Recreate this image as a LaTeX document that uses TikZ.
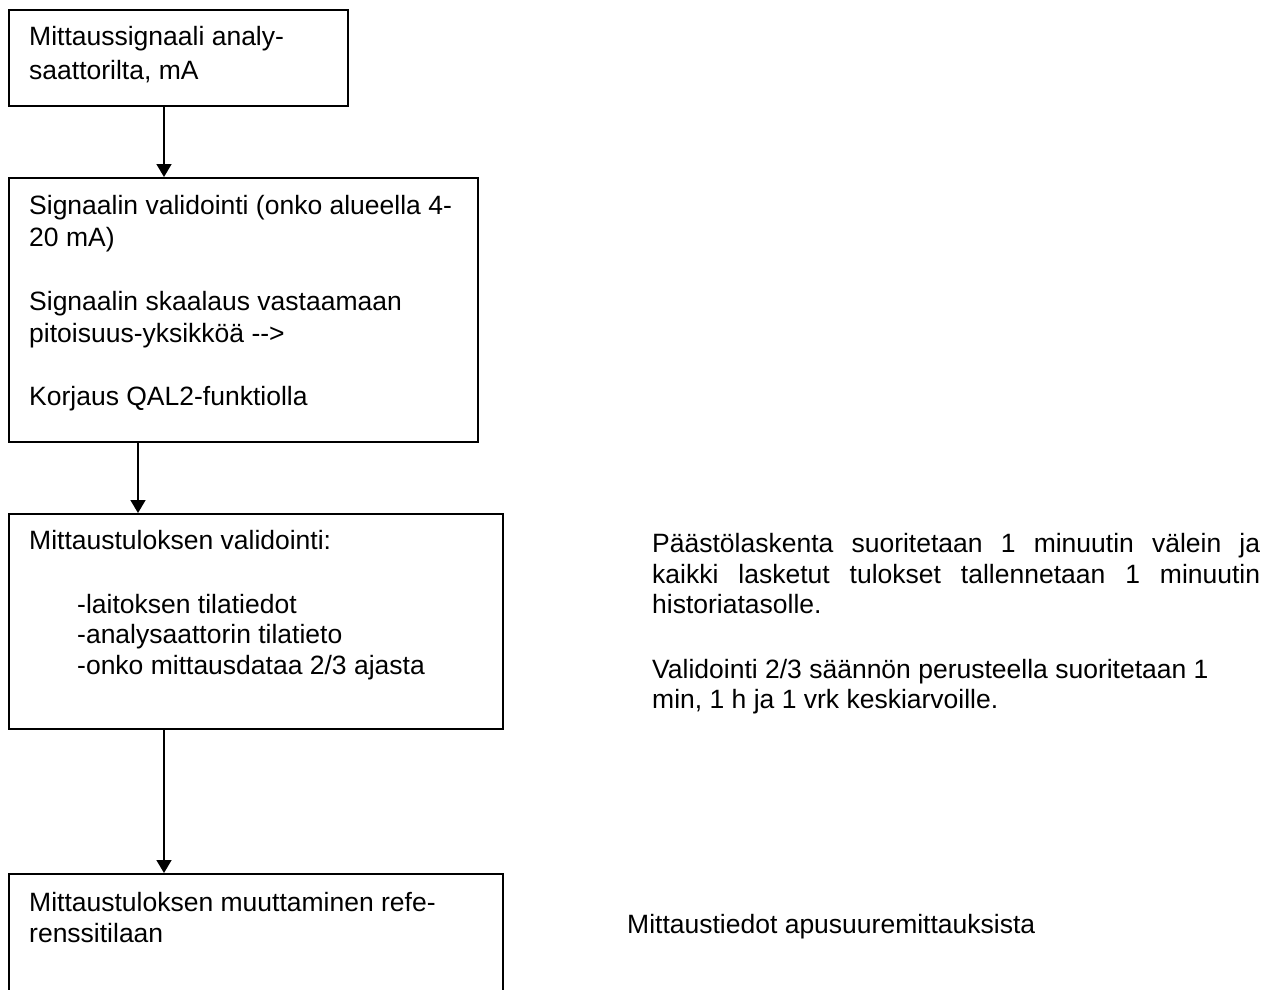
\documentclass[tikz,border=0pt]{standalone}
\usepackage{fontspec}
\setmainfont{Liberation Sans}
\usetikzlibrary{arrows.meta}
\begin{document}
\begin{tikzpicture}[x=1pt,y=-1pt,
  box/.style={draw, line width=1.6pt, anchor=north west, inner sep=0pt},
  txt/.style={inner sep=0pt, anchor=base west, font=\fontsize{26.5}{32}\selectfont},
  arr/.style={line width=1.6pt, -{Triangle[width=15pt,length=13pt]}}]
\useasboundingbox (0,0) rectangle (1272,989);
\clip (0,0) rectangle (1272,989);
% boxes
\node[box, minimum width=339pt, minimum height=96pt] (b1) at (8,9) {};
\node[box, minimum width=469pt, minimum height=264pt] (b2) at (8,177) {};
\node[box, minimum width=494pt, minimum height=215pt] (b3) at (8,513) {};
\node[box, minimum width=494pt, minimum height=140pt] (b4) at (8,873) {};
% box texts
\node[txt] (t11) at (29,45) {Mittaussignaali analy-};
\node[txt] (t12) at (29,79) {saattorilta, mA};
\node[txt] (t21) at (29,214) {Signaalin validointi (onko alueella 4-};
\node[txt] (t22) at (29,246) {20 mA)};
\node[txt] (t23) at (29,310) {Signaalin skaalaus vastaamaan};
\node[txt] (t24) at (29,342) {pitoisuus-yksikköä -\kern0pt-\kern0pt>};
\node[txt] (t25) at (29,405) {Korjaus QAL2-funktiolla};
\node[txt] (t31) at (29,549) {Mittaustuloksen validointi:};
\node[txt] (t32) at (77,613) {-laitoksen tilatiedot};
\node[txt] (t33) at (77,643) {-analysaattorin tilatieto};
\node[txt] (t34) at (77,674) {-onko mittausdataa 2/3 ajasta};
\node[txt] (t41) at (29,911) {Mittaustuloksen muuttaminen refe-};
\node[txt] (t42) at (29,942) {renssitilaan};
% right texts
\node[txt] (r1) at (652,552) {\makebox[608pt][s]{Päästölaskenta suoritetaan 1 minuutin välein ja}};
\node[txt] (r2) at (652,583) {\makebox[608pt][s]{kaikki lasketut tulokset tallennetaan 1 minuutin}};
\node[txt] (r3) at (652,613) {historiatasolle.};
\node[txt] (r4) at (652,678) {Validointi 2/3 säännön perusteella suoritetaan 1};
\node[txt] (r5) at (652,708) {min, 1 h ja 1 vrk keskiarvoille.};
\node[txt] (r6) at (627,933) {Mittaustiedot apusuuremittauksista};
% connectors
\coordinate (x1) at (164,0);
\coordinate (x2) at (138,0);
\draw[arr] (x1 |- b1.south) -- (x1 |- b2.north);
\draw[arr] (x2 |- b2.south) -- (x2 |- b3.north);
\draw[arr] (x1 |- b3.south) -- (x1 |- b4.north);
\end{tikzpicture}
\end{document}
